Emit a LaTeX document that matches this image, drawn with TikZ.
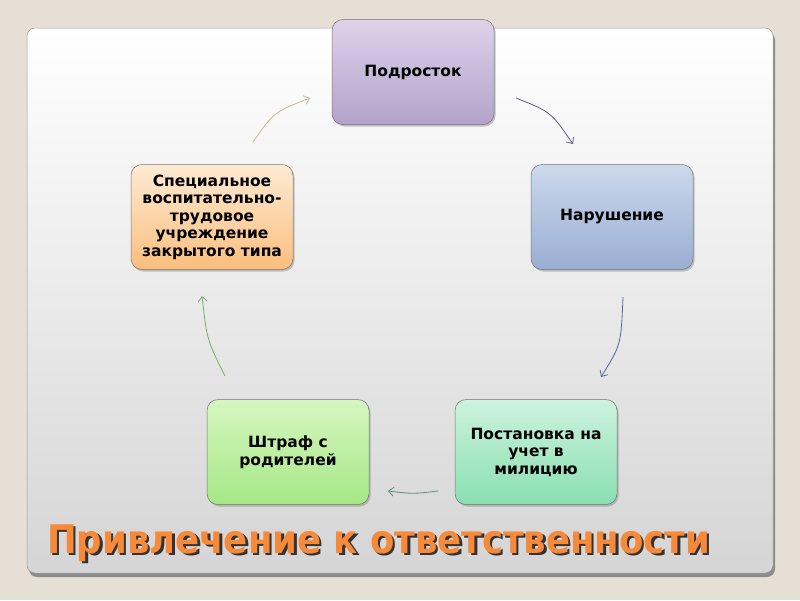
\documentclass[tikz,border=0pt]{standalone}
\usepackage{fontspec}
\usepackage{graphicx}
\newfontfamily\dv{DejaVu Sans}
\newfontfamily\dvc{DejaVu Sans Condensed}
\usetikzlibrary{arrows.meta,shadows}
\definecolor{bg}{HTML}{E5DFD5}
\definecolor{panelbot}{HTML}{D5D5D5}
\definecolor{lavT}{HTML}{DDD2E9}
\definecolor{lavB}{HTML}{B3A3CB}
\definecolor{bluT}{HTML}{CCD8EC}
\definecolor{bluB}{HTML}{99AED3}
\definecolor{minT}{HTML}{CDF3DD}
\definecolor{minB}{HTML}{8ADFB1}
\definecolor{grnT}{HTML}{D6F6C0}
\definecolor{grnB}{HTML}{A6E886}
\definecolor{orgT}{HTML}{FEEAD4}
\definecolor{orgB}{HTML}{FBBE7C}
\definecolor{titleorange}{HTML}{F7893B}
\definecolor{arTL}{HTML}{C9B994}
\definecolor{arTR}{HTML}{625A7C}
\definecolor{arR}{HTML}{5668A0}
\definecolor{arB}{HTML}{5E8C7C}
\definecolor{arL}{HTML}{72B262}
\tikzset{
  box/.style={rounded corners=11pt, minimum width=162pt, minimum height=105pt,
    draw=black!55, line width=0.5pt, align=center,
    font=\dv\bfseries\fontsize{15.5}{17.5}\selectfont,
    drop shadow={shadow xshift=1.5pt, shadow yshift=-2pt, opacity=0.45}},
  conn/.style={line width=0.8pt, -{Straight Barb[length=5pt,width=9pt]}}
}
\begin{document}
\begin{tikzpicture}[x=1pt,y=-1pt]
\useasboundingbox (0,0) rectangle (800,600);
\fill[bg] (0,0) rectangle (800,600);
% panel shadow
\fill[black!45, rounded corners=8pt] (29,32) rectangle (775,577);
% panel
\path[rounded corners=8pt, top color=white, bottom color=panelbot, draw=black!40, line width=0.5pt]
  (27,28) rectangle (773,573);

% boxes
\node[box, top color=lavT, bottom color=lavB] (podr) at (413,72) {Подросток};
\node[box, top color=bluT, bottom color=bluB] (nar) at (612,217) {Нарушение};
\node[box, top color=minT, bottom color=minB] (post) at (536,452) {Постановка на\\учет в\\милицию};
\node[box, top color=grnT, bottom color=grnB] (shtr) at (288,452) {Штраф с\\родителей};
\node[box, top color=orgT, bottom color=orgB] (spec) at (212,217) {Специальное\\воспитательно-\\трудовое\\учреждение\\закрытого типа};

% connector ends
\coordinate (a1s) at (253,142); \coordinate (a1e) at (310,98);
\coordinate (a2s) at (516,98);  \coordinate (a2e) at (573,144);
\coordinate (a3s) at (623,297); \coordinate (a3e) at (601,377);
\coordinate (a4s) at (438,491); \coordinate (a4e) at (388,491);
\coordinate (a5s) at (225,376); \coordinate (a5e) at (202,296);

\draw[conn, arTL] (a1s) .. controls (274,112) .. (a1e);
\draw[conn, arTR] (a2s) .. controls (551,112) .. (a2e);
\draw[conn, arR] (a3s) .. controls (621,345) .. (a3e);
\draw[conn, arB] (a4s) .. controls (413,494) .. (a4e);
\draw[conn, arL] (a5s) .. controls (207,340) .. (a5e);

% title with shadow
\node[anchor=base west, inner sep=0pt] (title) at (47,553)
  {\makebox[0pt][l]{\hspace{2.5pt}\raisebox{-2.5pt}{\color{black!80}\resizebox{663pt}{!}{\dvc\bfseries Привлечение к ответственности}}}%
   \color{titleorange}\resizebox{663pt}{!}{\dvc\bfseries Привлечение к ответственности}};
\end{tikzpicture}
\end{document}
